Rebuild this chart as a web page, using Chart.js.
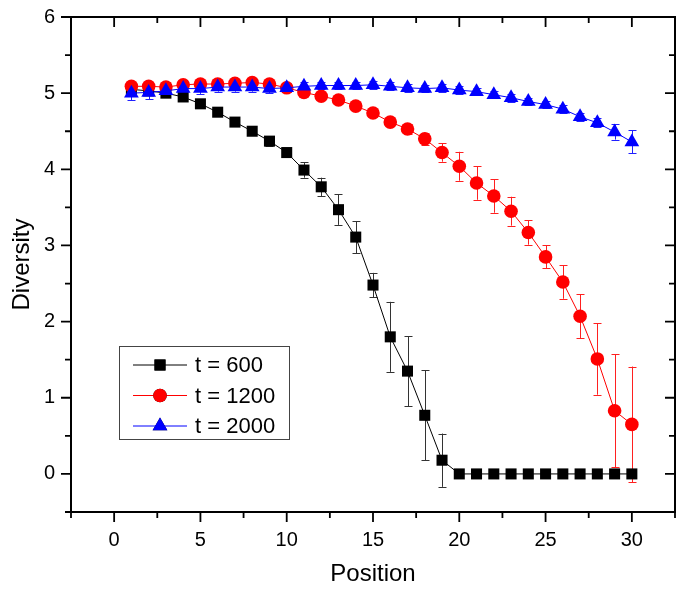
<!DOCTYPE html>
<html>
<head>
<meta charset="utf-8">
<script src="https://cdn.jsdelivr.net/npm/chart.js@4"></script>
<style>
  html, body { margin: 0; padding: 0; background: #fff; }
  #wrap { width: 685px; height: 593px; }
</style>
</head>
<body>
<div id="wrap"><canvas id="graph"></canvas></div>
<script>
// данные
var positions = [1,2,3,4,5,6,7,8,9,10,11,12,13,14,15,16,17,18,19,20,21,22,23,24,25,26,27,28,29,30];
var seriesNames = ['t = 600', 't = 1200', 't = 2000'];
var v600 = [5.05,5.03,5.00,4.95,4.86,4.75,4.62,4.50,4.37,4.22,3.99,3.77,3.47,3.11,2.48,1.80,1.35,0.77,0.18,0,0,0,0,0,0,0,0,0,0,0];
var v1200 = [5.09,5.09,5.08,5.11,5.12,5.12,5.13,5.14,5.12,5.07,5.01,4.96,4.91,4.83,4.74,4.62,4.53,4.40,4.22,4.04,3.82,3.65,3.45,3.17,2.85,2.52,2.07,1.51,0.83,0.65];
var v2000 = [5.00,5.01,5.03,5.06,5.06,5.08,5.08,5.08,5.06,5.07,5.09,5.10,5.10,5.10,5.11,5.09,5.07,5.06,5.07,5.04,5.02,4.98,4.94,4.89,4.85,4.79,4.69,4.61,4.49,4.36];
var err600 = [0.03,0.03,0.04,0.04,0.04,0.04,0.04,0.05,0.06,0.06,0.10,0.12,0.20,0.21,0.16,0.46,0.46,0.59,0.35,0,0,0,0,0,0,0,0,0,0,0];
var err1200 = [0.05,0.05,0.07,0.05,0.05,0.05,0.05,0.05,0.05,0.05,0.05,0.05,0.05,0.05,0.05,0.05,0.06,0.08,0.12,0.19,0.22,0.22,0.19,0.16,0.15,0.22,0.29,0.47,0.74,0.76];
var err2000 = [0.09,0.09,0.07,0.07,0.07,0.06,0.06,0.06,0.06,0.06,0.05,0.05,0.05,0.05,0.05,0.05,0.05,0.05,0.05,0.05,0.05,0.05,0.05,0.05,0.05,0.05,0.05,0.06,0.10,0.15];
var xTicks = [0,5,10,15,20,25,30];
var yTicks = [0,1,2,3,4,5,6];

var FONT = "'Liberation Sans', Arial, sans-serif";

function toPoints(vals) {
    return positions.map((p, i) => ({ x: p, y: vals[i] }));
}

var seriesList = [
    { name: seriesNames[0], vals: v600, errs: err600, color: '#000000', errColor: '#333333', style: 'rect', r: 7.8, order: 3 },
    { name: seriesNames[1], vals: v1200, errs: err1200, color: '#ff0000', errColor: '#ff2020', style: 'circle', r: 6.8, order: 2 },
    { name: seriesNames[2], vals: v2000, errs: err2000, color: '#0000ff', errColor: '#2020ff', style: 'triangle', r: 8.5, order: 1 }
];

var datasets = seriesList.map((s) => ({
    label: s.name,
    data: toPoints(s.vals),
    errors: s.errs,
    errColor: s.errColor,
    showLine: true,
    borderColor: s.color,
    backgroundColor: s.color,
    borderWidth: 1,
    pointStyle: s.style,
    pointRadius: s.r,
    pointHoverRadius: s.r,
    pointBorderWidth: 0,
    order: s.order
}));

// планки погрешностей под маркерами
var errorBars = {
    id: 'errorBars',
    beforeDatasetsDraw(chart) {
        var ctx = chart.ctx, xs = chart.scales.x, ys = chart.scales.y;
        ctx.save();
        [0, 1, 2].forEach((di) => {
            var ds = chart.data.datasets[di];
            ctx.strokeStyle = ds.errColor;
            ctx.lineWidth = 1;
            ds.data.forEach((pt, i) => {
                var e = ds.errors[i];
                if (!e) return;
                var px = Math.round(xs.getPixelForValue(pt.x)) + 0.5;
                var top = ys.getPixelForValue(pt.y + e);
                var bot = ys.getPixelForValue(pt.y - e);
                ctx.beginPath();
                ctx.moveTo(px, top); ctx.lineTo(px, bot);
                ctx.moveTo(px - 4, Math.round(top) + 0.5); ctx.lineTo(px + 4, Math.round(top) + 0.5);
                ctx.moveTo(px - 4, Math.round(bot) + 0.5); ctx.lineTo(px + 4, Math.round(bot) + 0.5);
                ctx.stroke();
            });
        });
        ctx.restore();
    }
};

// рамка, засечки и легенда
var frame = {
    id: 'frame',
    afterDraw(chart) {
        var ctx = chart.ctx, a = chart.chartArea, xs = chart.scales.x, ys = chart.scales.y;
        ctx.save();
        ctx.strokeStyle = '#000';
        ctx.lineWidth = 2;
        ctx.strokeRect(a.left, a.top, a.right - a.left, a.bottom - a.top);

        ctx.lineWidth = 1.8;
        ctx.beginPath();
        for (var v = -2.5; v <= 32.5; v += 2.5) {
            var px = xs.getPixelForValue(v);
            var len = (v % 5 === 0) ? 10 : 6;
            ctx.moveTo(px, a.bottom); ctx.lineTo(px, a.bottom + len);
            ctx.moveTo(px, a.top); ctx.lineTo(px, a.top + len);
        }
        for (var w = -0.5; w <= 6; w += 0.5) {
            var py = ys.getPixelForValue(w);
            var len2 = (w % 1 === 0) ? 10 : 6;
            ctx.moveTo(a.left, py); ctx.lineTo(a.left - len2, py);
            ctx.moveTo(a.right, py); ctx.lineTo(a.right - len2, py);
        }
        ctx.stroke();

        // легенда
        var lx = a.left + 48, ly = a.top + 329, lw = 170, lh = 93;
        ctx.lineWidth = 1;
        ctx.strokeStyle = '#444';
        ctx.strokeRect(lx + 0.5, ly + 0.5, lw, lh);
        ctx.font = '22px ' + FONT;
        ctx.textBaseline = 'middle';
        ctx.fillStyle = '#000';
        seriesList.forEach((s, i) => {
            var cy = ly + 19 + i * 30.5;
            ctx.strokeStyle = s.color;
            ctx.lineWidth = 1;
            ctx.beginPath();
            ctx.moveTo(lx + 14, cy); ctx.lineTo(lx + 68, cy);
            ctx.stroke();
            Chart.helpers.drawPoint(ctx, { pointStyle: s.style, radius: s.r, borderWidth: 0, rotation: 0 }, lx + 41, cy);
            ctx.fillStyle = s.color;
            ctx.fill();
            ctx.fillStyle = '#000';
            ctx.fillText(s.name, lx + 76, cy + 1);
        });
        ctx.restore();
    }
};

var ctx = document.getElementById('graph').getContext('2d');
var Graph = new Chart(ctx, {
    type: 'scatter',
    data: { datasets: datasets },
    options: {
        responsive: true,
        maintainAspectRatio: false,
        animation: false,
        layout: { padding: { top: 17, right: 10, left: 0, bottom: 0 } },
        plugins: {
            legend: { display: false },
            tooltip: { enabled: false }
        },
        scales: {
            x: {
                type: 'linear',
                min: -2.5,
                max: 32.5,
                afterBuildTicks: (s) => { s.ticks = xTicks.map((v) => ({ value: v })); },
                afterFit: (s) => { s.height = 81; },
                grid: { display: false, drawTicks: true, tickLength: 16 },
                border: { display: false },
                ticks: { color: '#000', font: { family: FONT, size: 20 }, padding: 0, maxRotation: 0 },
                title: { display: true, text: 'Position', color: '#000', font: { family: FONT, size: 24 }, padding: { top: 2 } }
            },
            y: {
                type: 'linear',
                min: -0.5,
                max: 6,
                afterBuildTicks: (s) => { s.ticks = yTicks.map((v) => ({ value: v })); },
                afterFit: (s) => { s.width = 71; },
                grid: { display: false, drawTicks: true, tickLength: 16 },
                border: { display: false },
                ticks: { color: '#000', font: { family: FONT, size: 20 }, padding: 0 },
                title: { display: true, text: 'Diversity', color: '#000', font: { family: FONT, size: 24 }, padding: { top: 8, bottom: 0 } }
            }
        }
    },
    plugins: [errorBars, frame]
});
</script>
</body>
</html>
